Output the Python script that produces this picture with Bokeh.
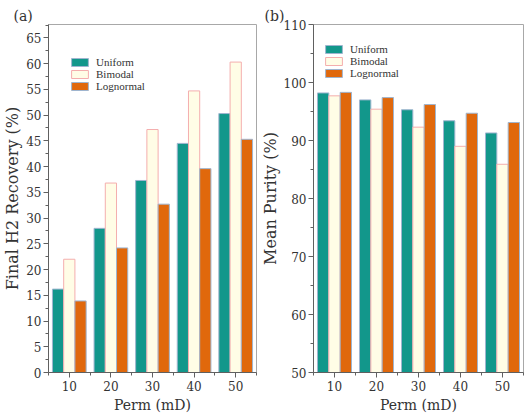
from bokeh.plotting import figure
from bokeh.layouts import row
from bokeh.models import ColumnDataSource, FixedTicker, Range1d, Legend, LegendItem
from bokeh.transform import dodge
from bokeh.embed import file_html
from bokeh.resources import INLINE

perm = [10, 20, 30, 40, 50]
rec_uniform = [16.2, 28.0, 37.3, 44.5, 50.3]
rec_bimodal = [22.0, 36.8, 47.2, 54.7, 60.3]
rec_lognormal = [13.9, 24.2, 32.7, 39.6, 45.3]
pur_uniform = [98.2, 97.0, 95.3, 93.4, 91.3]
pur_bimodal = [97.7, 95.4, 92.3, 89.0, 85.9]
pur_lognormal = [98.3, 97.4, 96.2, 94.7, 93.1]
series_names = ["Uniform", "Bimodal", "Lognormal"]

TEAL = "#12978b"
CREAM = "#fffde6"
ORANGE = "#e0680c"
PINK = "#f4aeae"
EDGE = "#9fb5cf"
SERIF = "'DejaVu Serif', serif"
LSERIF = "'Liberation Serif', serif"


def panel(tag, ylabel, y0, y1, major, minor, vals, fw, bl, br, legend_loc, tag_offset):
    src = ColumnDataSource(dict(perm=perm, u=vals[0], b=vals[1], l=vals[2]))
    p = figure(frame_width=fw, frame_height=348, output_backend="svg", toolbar_location=None,
               x_range=Range1d(5, 55), y_range=Range1d(y0, y1),
               min_border_left=bl, min_border_right=br, min_border_top=24, min_border_bottom=0)
    bw = 2.7
    r1 = p.vbar(x=dodge("perm", -bw, range=p.x_range), top="u", bottom=0, width=bw, source=src,
                fill_color=TEAL, line_color=EDGE, line_width=1)
    r2 = p.vbar(x=dodge("perm", 0, range=p.x_range), top="b", bottom=0, width=bw, source=src,
                fill_color=CREAM, line_color=PINK, line_width=1)
    r3 = p.vbar(x=dodge("perm", bw, range=p.x_range), top="l", bottom=0, width=bw, source=src,
                fill_color=ORANGE, line_color=EDGE, line_width=1)

    p.xgrid.visible = False
    p.ygrid.visible = False
    p.outline_line_color = "#a8a8a8"
    p.outline_line_width = 1

    p.xaxis.ticker = FixedTicker(ticks=perm, minor_ticks=[v + 5 for v in [0] + perm])
    p.yaxis.ticker = FixedTicker(ticks=major, minor_ticks=minor)
    for ax in (p.xaxis[0], p.yaxis[0]):
        ax.axis_line_color = "#606060"
        ax.major_tick_line_color = "#606060"
        ax.minor_tick_line_color = "#606060"
        ax.major_tick_out = 5
        ax.major_tick_in = 0
        ax.minor_tick_out = 3
        ax.minor_tick_in = 0
        ax.major_label_text_font = SERIF
        ax.major_label_text_font_size = "12px"
        ax.major_label_text_color = "#333333"
        ax.axis_label_text_font = SERIF
        ax.axis_label_text_font_style = "normal"
        ax.axis_label_text_color = "#333333"
    p.xaxis.axis_label = "Perm (mD)"
    p.xaxis.axis_label_text_font_size = "14px"
    p.xaxis.major_label_standoff = 3
    p.xaxis.axis_label_standoff = 3
    p.yaxis.axis_label = ylabel
    p.yaxis.axis_label_text_font_size = "16px"
    p.yaxis.major_label_standoff = 2
    p.yaxis.axis_label_standoff = 1

    p.title.text = tag
    p.title.text_font = SERIF
    p.title.text_font_size = "14px"
    p.title.text_font_style = "normal"
    p.title.text_color = "#333333"
    p.title.offset = tag_offset
    p.title.standoff = 2

    leg = Legend(items=[LegendItem(label=series_names[0], renderers=[r1]),
                        LegendItem(label=series_names[1], renderers=[r2]),
                        LegendItem(label=series_names[2], renderers=[r3])],
                 location=legend_loc, label_text_font=LSERIF, label_text_font_size="11px",
                 label_text_color="#333333",
                 glyph_width=21, glyph_height=10, label_height=10, spacing=-6,
                 padding=0, margin=0, border_line_color=None, background_fill_alpha=0,
                 label_standoff=6)
    p.add_layout(leg)
    return p


p1 = panel("(a)", "Final H2 Recovery (%)", 0, 67.6, list(range(0, 66, 5)),
           [v + 2.5 for v in range(0, 66, 5)], [rec_uniform, rec_bimodal, rec_lognormal],
           208, 38, 1, (21, 280), -35)
p2 = panel("(b)", "Mean Purity (%)", 50, 110, list(range(50, 111, 10)),
           [v + 5 for v in range(50, 110, 10)], [pur_uniform, pur_bimodal, pur_lognormal],
           210, 54, 2, (10, 293), -49)

layout = row(p1, p2)
open("out.html", "w").write(file_html(layout, INLINE))
